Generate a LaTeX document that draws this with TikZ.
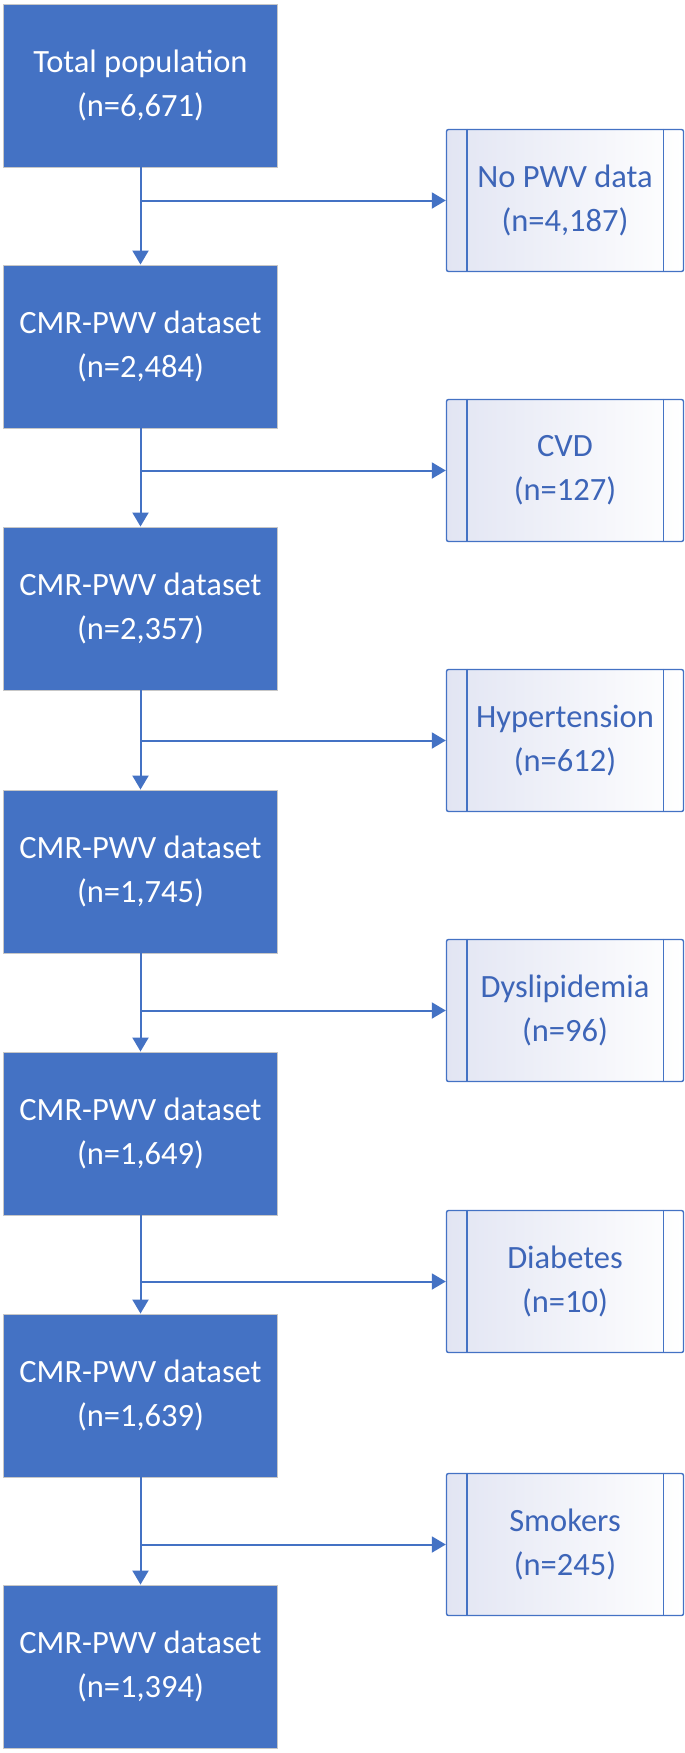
\documentclass[tikz,border=0pt]{standalone}
\usepackage{fontspec}
\setmainfont{Carlito}
\usetikzlibrary{arrows.meta}
\definecolor{obl}{HTML}{4472C4}
\definecolor{rtxt}{HTML}{3D65B8}
\definecolor{lav}{HTML}{E2E5F3}
\tikzset{
  mainbox/.style={draw=black!22, line width=0.9pt, fill=obl, text=white,
    minimum width=274pt, minimum height=163pt, align=center, inner sep=0pt,
    font=\fontsize{32.5}{43.6}\selectfont},
  exbox/.style={draw=obl, line width=1.4pt, rounded corners=2pt,
    left color=lav, right color=white, minimum width=237pt, minimum height=142pt,
    align=center, text=rtxt, inner sep=0pt,
    font=\fontsize{32.5}{43.6}\selectfont},
  conn/.style={draw=obl, line width=2pt},
  arr/.style={conn, -{Triangle[width=16pt,length=14pt]}},
  bar/.style={draw=obl, line width=1.4pt}
}
\begin{document}
\begin{tikzpicture}[x=1pt,y=-1pt]
\useasboundingbox (0,0) rectangle (685,1753);
% main column
\node[mainbox] (m1) at (140.5,85.5) {Total population\\(n=6,671)};
\node[mainbox] (m2) at (140.5,346.5) {CMR-PWV dataset\\(n=2,484)};
\node[mainbox] (m3) at (140.5,608.5) {CMR-PWV dataset\\(n=2,357)};
\node[mainbox] (m4) at (140.5,871.5) {CMR-PWV dataset\\(n=1,745)};
\node[mainbox] (m5) at (140.5,1133.5) {CMR-PWV dataset\\(n=1,649)};
\node[mainbox] (m6) at (140.5,1395.5) {CMR-PWV dataset\\(n=1,639)};
\node[mainbox] (m7) at (140.5,1666.5) {CMR-PWV dataset\\(n=1,394)};
% exclusion boxes
\node[exbox] (e1) at (565,200.5) {No PWV data\\(n=4,187)};
\node[exbox] (e2) at (565,470.5) {CVD\\(n=127)};
\node[exbox] (e3) at (565,740.5) {Hypertension\\(n=612)};
\node[exbox] (e4) at (565,1010.5) {Dyslipidemia\\(n=96)};
\node[exbox] (e5) at (565,1281.5) {Diabetes\\(n=10)};
\node[exbox] (e6) at (565,1544.5) {Smokers\\(n=245)};
% inner bars
\foreach \e in {e1,e2,e3,e4,e5,e6}{
  \draw[bar] ([xshift=21pt]\e.north west) -- ([xshift=21pt]\e.south west);
  \draw[bar] ([xshift=-21pt]\e.north east) -- ([xshift=-21pt]\e.south east);
}
% connectors
\draw[arr] (m1.south) -- (m2.north);
\draw[arr] (m2.south) -- (m3.north);
\draw[arr] (m3.south) -- (m4.north);
\draw[arr] (m4.south) -- (m5.north);
\draw[arr] (m5.south) -- (m6.north);
\draw[arr] (m6.south) -- (m7.north);
\draw[arr] (m1.south |- e1.west) -- (e1.west);
\draw[arr] (m2.south |- e2.west) -- (e2.west);
\draw[arr] (m3.south |- e3.west) -- (e3.west);
\draw[arr] (m4.south |- e4.west) -- (e4.west);
\draw[arr] (m5.south |- e5.west) -- (e5.west);
\draw[arr] (m6.south |- e6.west) -- (e6.west);
\end{tikzpicture}
\end{document}
